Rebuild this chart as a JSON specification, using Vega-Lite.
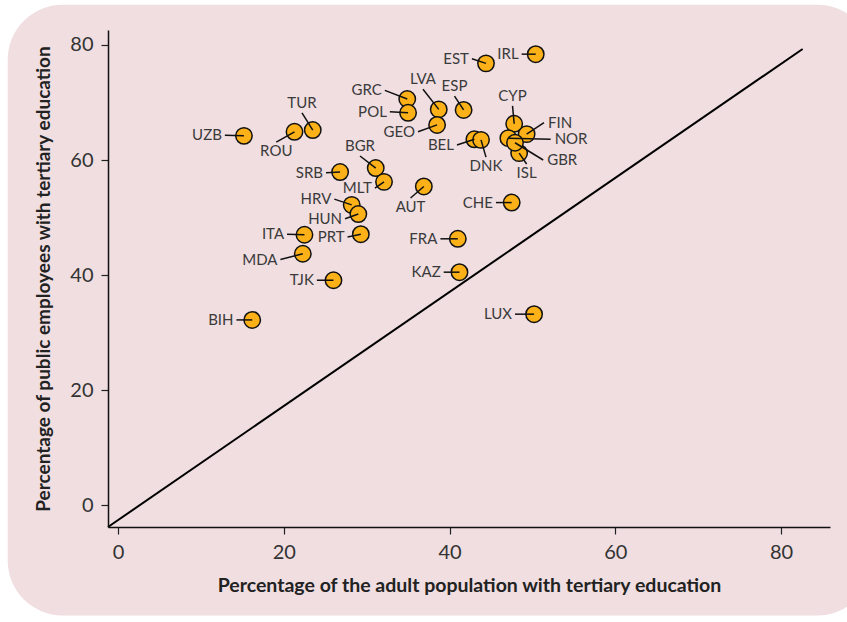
{
  "$schema": "https://vega.github.io/schema/vega-lite/v6.json",
  "width": 722,
  "height": 497,
  "autosize": {"type": "none"},
  "padding": {"left": 108, "top": 30, "right": 17, "bottom": 95},
  "background": "white",
  "config": {
    "view": {"stroke": null},
    "font": "Lato"
  },
  "datasets": {
    "countries": [
      {"iso": "UZB", "adult": 15.2, "public": 64.2, "lx": 12.9, "ly": 64.3},
      {"iso": "ROU", "adult": 21.3, "public": 64.9, "lx": 19.1, "ly": 63.1},
      {"iso": "TUR", "adult": 23.5, "public": 65.2, "lx": 22.2, "ly": 68.2},
      {"iso": "SRB", "adult": 26.8, "public": 57.9, "lx": 25.1, "ly": 57.8},
      {"iso": "BGR", "adult": 31.1, "public": 58.6, "lx": 29.2, "ly": 60.7},
      {"iso": "MLT", "adult": 32.1, "public": 56.2, "lx": 31.0, "ly": 55.1},
      {"iso": "HRV", "adult": 28.2, "public": 52.2, "lx": 26.1, "ly": 53.2},
      {"iso": "HUN", "adult": 29.0, "public": 50.6, "lx": 27.4, "ly": 49.8},
      {"iso": "PRT", "adult": 29.3, "public": 47.1, "lx": 27.7, "ly": 46.6},
      {"iso": "ITA", "adult": 22.5, "public": 47.0, "lx": 20.4, "ly": 47.1},
      {"iso": "MDA", "adult": 22.3, "public": 43.7, "lx": 19.6, "ly": 42.7},
      {"iso": "TJK", "adult": 26.0, "public": 39.1, "lx": 24.0, "ly": 39.1},
      {"iso": "BIH", "adult": 16.2, "public": 32.2, "lx": 14.3, "ly": 32.2},
      {"iso": "AUT", "adult": 36.9, "public": 55.4, "lx": 35.3, "ly": 53.4},
      {"iso": "FRA", "adult": 41.0, "public": 46.3, "lx": 38.9, "ly": 46.3},
      {"iso": "KAZ", "adult": 41.2, "public": 40.5, "lx": 39.3, "ly": 40.5},
      {"iso": "CHE", "adult": 47.5, "public": 52.6, "lx": 45.6, "ly": 52.6},
      {"iso": "LUX", "adult": 50.2, "public": 33.2, "lx": 47.9, "ly": 33.2},
      {"iso": "EST", "adult": 44.4, "public": 76.8, "lx": 42.7, "ly": 77.6},
      {"iso": "IRL", "adult": 50.4, "public": 78.4, "lx": 48.7, "ly": 78.4},
      {"iso": "GRC", "adult": 34.9, "public": 70.6, "lx": 32.2, "ly": 72.1},
      {"iso": "POL", "adult": 35.0, "public": 68.2, "lx": 32.8, "ly": 68.4},
      {"iso": "LVA", "adult": 38.7, "public": 68.8, "lx": 36.8, "ly": 72.3},
      {"iso": "ESP", "adult": 41.7, "public": 68.7, "lx": 40.6, "ly": 71.1},
      {"iso": "GEO", "adult": 38.5, "public": 66.1, "lx": 36.2, "ly": 64.9},
      {"iso": "BEL", "adult": 43.0, "public": 63.6, "lx": 40.9, "ly": 62.6},
      {"iso": "DNK", "adult": 43.8, "public": 63.5, "lx": 44.4, "ly": 60.5},
      {"iso": "FIN", "adult": 49.3, "public": 64.5, "lx": 51.4, "ly": 66.5},
      {"iso": "CYP", "adult": 47.8, "public": 66.3, "lx": 47.6, "ly": 69.4},
      {"iso": "NOR", "adult": 47.1, "public": 63.8, "lx": 52.2, "ly": 63.6},
      {"iso": "ISL", "adult": 48.4, "public": 61.2, "lx": 49.3, "ly": 59.3},
      {"iso": "GBR", "adult": 47.9, "public": 63.0, "lx": 51.3, "ly": 60.0}
    ],
    "diag": [
      {"adult": -1.2, "public": -3.8},
      {"adult": 82.6, "public": 79.3}
    ]
  },
  "layer": [
    {
      "data": {"values": [{}]},
      "mark": {"type": "rect", "fill": "#F0DEE1", "cornerRadius": 55},
      "encoding": {
        "x": {"datum": -13.3, "type": "quantitative", "scale": {"domain": [-1.2, 85.9], "nice": false, "zero": false},
          "axis": {"zindex": 2, "values": [0, 20, 40, 60, 80], "title": "Percentage of the adult population with tertiary education", "titleFont": "Lato", "titleFontSize": 19.5, "titleFontWeight": "bold", "titleColor": "#222222", "titlePadding": 14, "domainColor": "#111111", "domainWidth": 1.5, "tickColor": "#222222", "tickSize": 7, "tickWidth": 1.2, "labelFont": "Lato", "labelFontSize": 20, "labelColor": "#333333", "labelPadding": 8, "grid": false}},
        "x2": {"datum": 91},
        "y": {"datum": -19.2, "type": "quantitative", "scale": {"domain": [-3.8, 82.6], "nice": false, "zero": false},
          "axis": {"zindex": 2, "values": [0, 20, 40, 60, 80], "title": "Percentage of public employees with tertiary education", "titleFont": "Lato", "titleFontSize": 19, "titleFontWeight": "bold", "titleColor": "#222222", "titlePadding": 16, "domainColor": "#111111", "domainWidth": 1.5, "tickColor": "#222222", "tickSize": 7, "tickWidth": 1.2, "labelFont": "Lato", "labelFontSize": 20, "labelColor": "#333333", "labelPadding": 8, "grid": false}},
        "y2": {"datum": 87.0}
      }
    },
    {
      "data": {"name": "diag"},
      "mark": {"type": "line", "color": "#000000", "strokeWidth": 2},
      "encoding": {
        "x": {"field": "adult", "type": "quantitative", "scale": {"domain": [-1.2, 85.9], "nice": false, "zero": false},
          "axis": {"zindex": 2, "values": [0, 20, 40, 60, 80], "title": "Percentage of the adult population with tertiary education", "titleFont": "Lato", "titleFontSize": 19.5, "titleFontWeight": "bold", "titleColor": "#222222", "titlePadding": 14, "domainColor": "#111111", "domainWidth": 1.5, "tickColor": "#222222", "tickSize": 7, "tickWidth": 1.2, "labelFont": "Lato", "labelFontSize": 20, "labelColor": "#333333", "labelPadding": 8, "grid": false}},
        "y": {"field": "public", "type": "quantitative", "scale": {"domain": [-3.8, 82.6], "nice": false, "zero": false},
          "axis": {"zindex": 2, "values": [0, 20, 40, 60, 80], "title": "Percentage of public employees with tertiary education", "titleFont": "Lato", "titleFontSize": 19, "titleFontWeight": "bold", "titleColor": "#222222", "titlePadding": 16, "domainColor": "#111111", "domainWidth": 1.5, "tickColor": "#222222", "tickSize": 7, "tickWidth": 1.2, "labelFont": "Lato", "labelFontSize": 20, "labelColor": "#333333", "labelPadding": 8, "grid": false}}
      }
    },
    {
      "data": {"name": "countries"},
      "mark": {"type": "point", "filled": true, "fill": "#FBB117", "stroke": "#111111", "strokeWidth": 1.5, "size": 270, "opacity": 1},
      "encoding": {
        "x": {"field": "adult", "type": "quantitative", "scale": {"domain": [-1.2, 85.9], "nice": false, "zero": false},
          "axis": {"zindex": 2, "values": [0, 20, 40, 60, 80], "title": "Percentage of the adult population with tertiary education", "titleFont": "Lato", "titleFontSize": 19.5, "titleFontWeight": "bold", "titleColor": "#222222", "titlePadding": 14, "domainColor": "#111111", "domainWidth": 1.5, "tickColor": "#222222", "tickSize": 7, "tickWidth": 1.2, "labelFont": "Lato", "labelFontSize": 20, "labelColor": "#333333", "labelPadding": 8, "grid": false}},
        "y": {"field": "public", "type": "quantitative", "scale": {"domain": [-3.8, 82.6], "nice": false, "zero": false},
          "axis": {"zindex": 2, "values": [0, 20, 40, 60, 80], "title": "Percentage of public employees with tertiary education", "titleFont": "Lato", "titleFontSize": 19, "titleFontWeight": "bold", "titleColor": "#222222", "titlePadding": 16, "domainColor": "#111111", "domainWidth": 1.5, "tickColor": "#222222", "tickSize": 7, "tickWidth": 1.2, "labelFont": "Lato", "labelFontSize": 20, "labelColor": "#333333", "labelPadding": 8, "grid": false}}
      }
    },
    {
      "data": {"name": "countries"},
      "mark": {"type": "rule", "color": "#111111", "strokeWidth": 1.5},
      "encoding": {
        "x": {"field": "adult", "type": "quantitative", "scale": {"domain": [-1.2, 85.9], "nice": false, "zero": false},
          "axis": {"zindex": 2, "values": [0, 20, 40, 60, 80], "title": "Percentage of the adult population with tertiary education", "titleFont": "Lato", "titleFontSize": 19.5, "titleFontWeight": "bold", "titleColor": "#222222", "titlePadding": 14, "domainColor": "#111111", "domainWidth": 1.5, "tickColor": "#222222", "tickSize": 7, "tickWidth": 1.2, "labelFont": "Lato", "labelFontSize": 20, "labelColor": "#333333", "labelPadding": 8, "grid": false}},
        "y": {"field": "public", "type": "quantitative", "scale": {"domain": [-3.8, 82.6], "nice": false, "zero": false},
          "axis": {"zindex": 2, "values": [0, 20, 40, 60, 80], "title": "Percentage of public employees with tertiary education", "titleFont": "Lato", "titleFontSize": 19, "titleFontWeight": "bold", "titleColor": "#222222", "titlePadding": 16, "domainColor": "#111111", "domainWidth": 1.5, "tickColor": "#222222", "tickSize": 7, "tickWidth": 1.2, "labelFont": "Lato", "labelFontSize": 20, "labelColor": "#333333", "labelPadding": 8, "grid": false}},
        "x2": {"field": "lx"},
        "y2": {"field": "ly"}
      }
    },
    {
      "data": {"name": "countries"},
      "transform": [{"filter": {"field": "iso", "oneOf": ["UZB", "SRB", "MLT", "HRV", "HUN", "PRT", "ITA", "MDA", "TJK", "BIH", "FRA", "KAZ", "CHE", "LUX", "EST", "IRL", "GRC", "POL", "GEO", "BEL"]}}],
      "mark": {"type": "text", "align": "right", "baseline": "middle", "dx": -3, "fontSize": 15, "font": "Lato", "color": "#3A3A3A"},
      "encoding": {
        "x": {"field": "lx", "type": "quantitative", "scale": {"domain": [-1.2, 85.9], "nice": false, "zero": false},
          "axis": {"zindex": 2, "values": [0, 20, 40, 60, 80], "title": "Percentage of the adult population with tertiary education", "titleFont": "Lato", "titleFontSize": 19.5, "titleFontWeight": "bold", "titleColor": "#222222", "titlePadding": 14, "domainColor": "#111111", "domainWidth": 1.5, "tickColor": "#222222", "tickSize": 7, "tickWidth": 1.2, "labelFont": "Lato", "labelFontSize": 20, "labelColor": "#333333", "labelPadding": 8, "grid": false}},
        "y": {"field": "ly", "type": "quantitative", "scale": {"domain": [-3.8, 82.6], "nice": false, "zero": false},
          "axis": {"zindex": 2, "values": [0, 20, 40, 60, 80], "title": "Percentage of public employees with tertiary education", "titleFont": "Lato", "titleFontSize": 19, "titleFontWeight": "bold", "titleColor": "#222222", "titlePadding": 16, "domainColor": "#111111", "domainWidth": 1.5, "tickColor": "#222222", "tickSize": 7, "tickWidth": 1.2, "labelFont": "Lato", "labelFontSize": 20, "labelColor": "#333333", "labelPadding": 8, "grid": false}},
        "text": {"field": "iso"}
      }
    },
    {
      "data": {"name": "countries"},
      "transform": [{"filter": {"field": "iso", "oneOf": ["FIN", "NOR", "GBR"]}}],
      "mark": {"type": "text", "align": "left", "baseline": "middle", "dx": 4, "fontSize": 15, "font": "Lato", "color": "#3A3A3A"},
      "encoding": {
        "x": {"field": "lx", "type": "quantitative", "scale": {"domain": [-1.2, 85.9], "nice": false, "zero": false},
          "axis": {"zindex": 2, "values": [0, 20, 40, 60, 80], "title": "Percentage of the adult population with tertiary education", "titleFont": "Lato", "titleFontSize": 19.5, "titleFontWeight": "bold", "titleColor": "#222222", "titlePadding": 14, "domainColor": "#111111", "domainWidth": 1.5, "tickColor": "#222222", "tickSize": 7, "tickWidth": 1.2, "labelFont": "Lato", "labelFontSize": 20, "labelColor": "#333333", "labelPadding": 8, "grid": false}},
        "y": {"field": "ly", "type": "quantitative", "scale": {"domain": [-3.8, 82.6], "nice": false, "zero": false},
          "axis": {"zindex": 2, "values": [0, 20, 40, 60, 80], "title": "Percentage of public employees with tertiary education", "titleFont": "Lato", "titleFontSize": 19, "titleFontWeight": "bold", "titleColor": "#222222", "titlePadding": 16, "domainColor": "#111111", "domainWidth": 1.5, "tickColor": "#222222", "tickSize": 7, "tickWidth": 1.2, "labelFont": "Lato", "labelFontSize": 20, "labelColor": "#333333", "labelPadding": 8, "grid": false}},
        "text": {"field": "iso"}
      }
    },
    {
      "data": {"name": "countries"},
      "transform": [{"filter": {"field": "iso", "oneOf": ["TUR", "BGR", "LVA", "ESP", "CYP"]}}],
      "mark": {"type": "text", "align": "center", "baseline": "bottom", "dy": -2, "fontSize": 15, "font": "Lato", "color": "#3A3A3A"},
      "encoding": {
        "x": {"field": "lx", "type": "quantitative", "scale": {"domain": [-1.2, 85.9], "nice": false, "zero": false},
          "axis": {"zindex": 2, "values": [0, 20, 40, 60, 80], "title": "Percentage of the adult population with tertiary education", "titleFont": "Lato", "titleFontSize": 19.5, "titleFontWeight": "bold", "titleColor": "#222222", "titlePadding": 14, "domainColor": "#111111", "domainWidth": 1.5, "tickColor": "#222222", "tickSize": 7, "tickWidth": 1.2, "labelFont": "Lato", "labelFontSize": 20, "labelColor": "#333333", "labelPadding": 8, "grid": false}},
        "y": {"field": "ly", "type": "quantitative", "scale": {"domain": [-3.8, 82.6], "nice": false, "zero": false},
          "axis": {"zindex": 2, "values": [0, 20, 40, 60, 80], "title": "Percentage of public employees with tertiary education", "titleFont": "Lato", "titleFontSize": 19, "titleFontWeight": "bold", "titleColor": "#222222", "titlePadding": 16, "domainColor": "#111111", "domainWidth": 1.5, "tickColor": "#222222", "tickSize": 7, "tickWidth": 1.2, "labelFont": "Lato", "labelFontSize": 20, "labelColor": "#333333", "labelPadding": 8, "grid": false}},
        "text": {"field": "iso"}
      }
    },
    {
      "data": {"name": "countries"},
      "transform": [{"filter": {"field": "iso", "oneOf": ["ROU", "AUT", "DNK", "ISL"]}}],
      "mark": {"type": "text", "align": "center", "baseline": "top", "dy": 2, "fontSize": 15, "font": "Lato", "color": "#3A3A3A"},
      "encoding": {
        "x": {"field": "lx", "type": "quantitative", "scale": {"domain": [-1.2, 85.9], "nice": false, "zero": false},
          "axis": {"zindex": 2, "values": [0, 20, 40, 60, 80], "title": "Percentage of the adult population with tertiary education", "titleFont": "Lato", "titleFontSize": 19.5, "titleFontWeight": "bold", "titleColor": "#222222", "titlePadding": 14, "domainColor": "#111111", "domainWidth": 1.5, "tickColor": "#222222", "tickSize": 7, "tickWidth": 1.2, "labelFont": "Lato", "labelFontSize": 20, "labelColor": "#333333", "labelPadding": 8, "grid": false}},
        "y": {"field": "ly", "type": "quantitative", "scale": {"domain": [-3.8, 82.6], "nice": false, "zero": false},
          "axis": {"zindex": 2, "values": [0, 20, 40, 60, 80], "title": "Percentage of public employees with tertiary education", "titleFont": "Lato", "titleFontSize": 19, "titleFontWeight": "bold", "titleColor": "#222222", "titlePadding": 16, "domainColor": "#111111", "domainWidth": 1.5, "tickColor": "#222222", "tickSize": 7, "tickWidth": 1.2, "labelFont": "Lato", "labelFontSize": 20, "labelColor": "#333333", "labelPadding": 8, "grid": false}},
        "text": {"field": "iso"}
      }
    }
  ]
}
